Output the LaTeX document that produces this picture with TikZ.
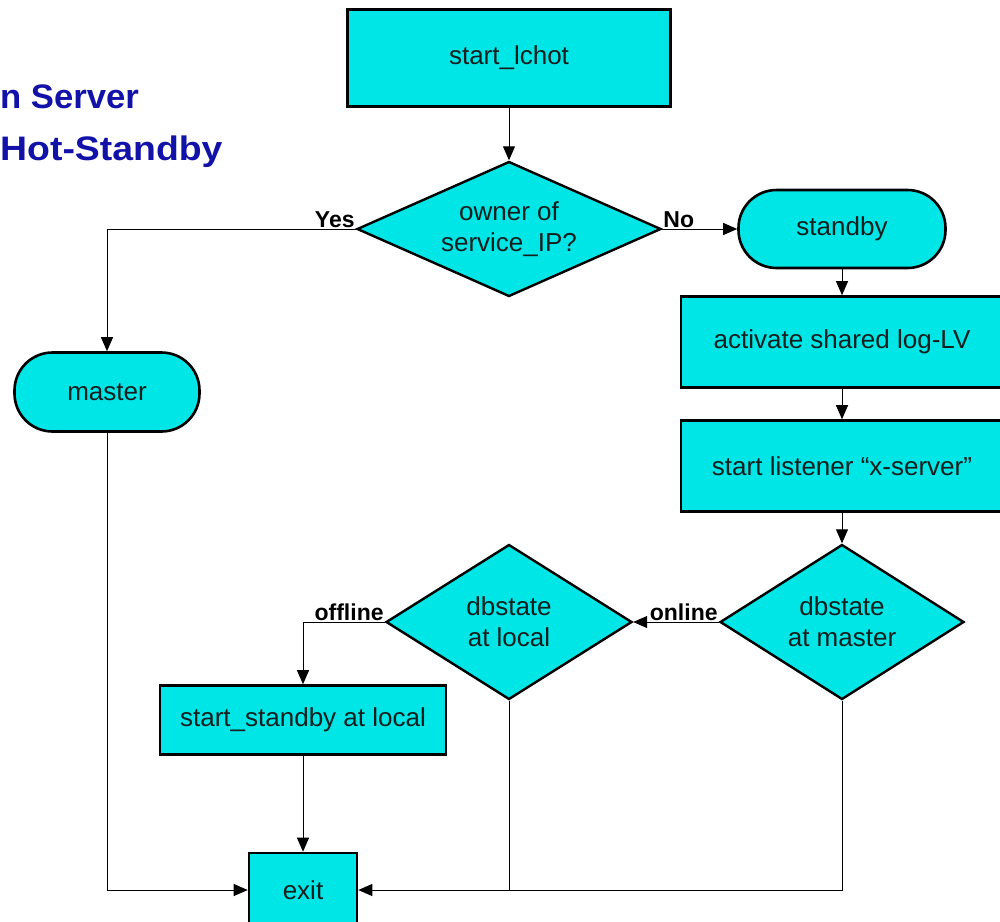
\documentclass[tikz,border=0pt]{standalone}
\usepackage{fontspec}
\setmainfont{Liberation Sans}
\usetikzlibrary{shapes.geometric,arrows.meta}
\definecolor{boxfill}{RGB}{0,230,230}
\definecolor{titleblue}{RGB}{18,18,168}
\definecolor{inktext}{RGB}{20,30,30}

\begin{document}
\begin{tikzpicture}[x=1pt,y=-1pt,
  nodefont/.style={font=\fontsize{26}{31}\selectfont,text=inktext},
  process/.style={rectangle,draw=black,line width=2.6pt,fill=boxfill,inner sep=0pt,nodefont,align=center},
  terminal/.style={process,rounded corners=38pt},
  decision/.style={diamond,draw=black,line width=2.4pt,fill=boxfill,inner sep=0pt,nodefont,align=center},
  flow/.style={line width=0.9pt,-{Triangle[length=14pt,width=12pt]}},
  plain/.style={line width=0.9pt},
  branch/.style={font=\bfseries\fontsize{23}{27}\selectfont,inner sep=1pt},
  heading/.style={font=\bfseries\fontsize{34}{40}\selectfont,text=titleblue,inner sep=0pt,anchor=base west}]

\useasboundingbox (0,0) rectangle (1000,921);
\clip (0,0) rectangle (1000,921);

% heading
\node[heading] (t1) at (0,108) {\scalebox{1.02}[1]{n Server}};
\node[heading] (t2) at (0,160) {\scalebox{1.1}[1]{Hot-Standby}};

% nodes
\node[process,minimum width=323pt,minimum height=97pt] (start) at (509,58) {start\_lchot};
\node[decision,minimum width=304pt,minimum height=135pt,shape aspect=2.25] (owner) at (509,229) {owner of\\service\_IP?};
\node[terminal,minimum width=207pt,minimum height=78pt] (standby) at (842,229) {standby};
\node[terminal,minimum width=185pt,minimum height=79pt] (master) at (107,392) {master};
\node[process,minimum width=322pt,minimum height=91pt] (activate) at (842,342) {activate shared log-LV};
\node[process,minimum width=322pt,minimum height=91pt] (listener) at (842,466) {start listener “x-server”};
\node[decision,minimum width=244pt,minimum height=155pt,shape aspect=1.57] (dbm) at (842,622) {dbstate\\at master};
\node[decision,minimum width=246pt,minimum height=155pt,shape aspect=1.59] (dbl) at (509,622) {dbstate\\at local};
\node[process,minimum width=286pt,minimum height=69pt] (sbl) at (303,720) {start\_standby at local};
\node[process,minimum width=108pt,minimum height=74pt] (exit) at (303,890) {exit};

% connectors
\draw[flow] (start.south) -- (owner.north);
\draw[flow] (owner.west) -| (master.north);
\node[branch,anchor=south east] (yes) at (owner.west) {Yes};
\draw[flow] (owner.east) -- (standby.west);
\node[branch,anchor=south west] (no) at (owner.east) {No};
\draw[flow] (standby.south) -- (activate.north);
\draw[flow] (activate.south) -- (listener.north);
\draw[flow] (listener.south) -- (dbm.north);
\draw[flow] (dbm.west) -- (dbl.east);
\node[branch,anchor=south east] (online) at (dbm.west) {online};
\draw[flow] (dbl.west) -| (sbl.north);
\node[branch,anchor=south east] (offline) at (dbl.west) {offline};
\draw[flow] (sbl.south) -- (exit.north);
\draw[flow] (master.south) |- (exit.west);
\draw[flow] (dbm.south) |- (exit.east);
\draw[plain] (dbl.south) -- (dbl.south |- exit.east);
\end{tikzpicture}
\end{document}
